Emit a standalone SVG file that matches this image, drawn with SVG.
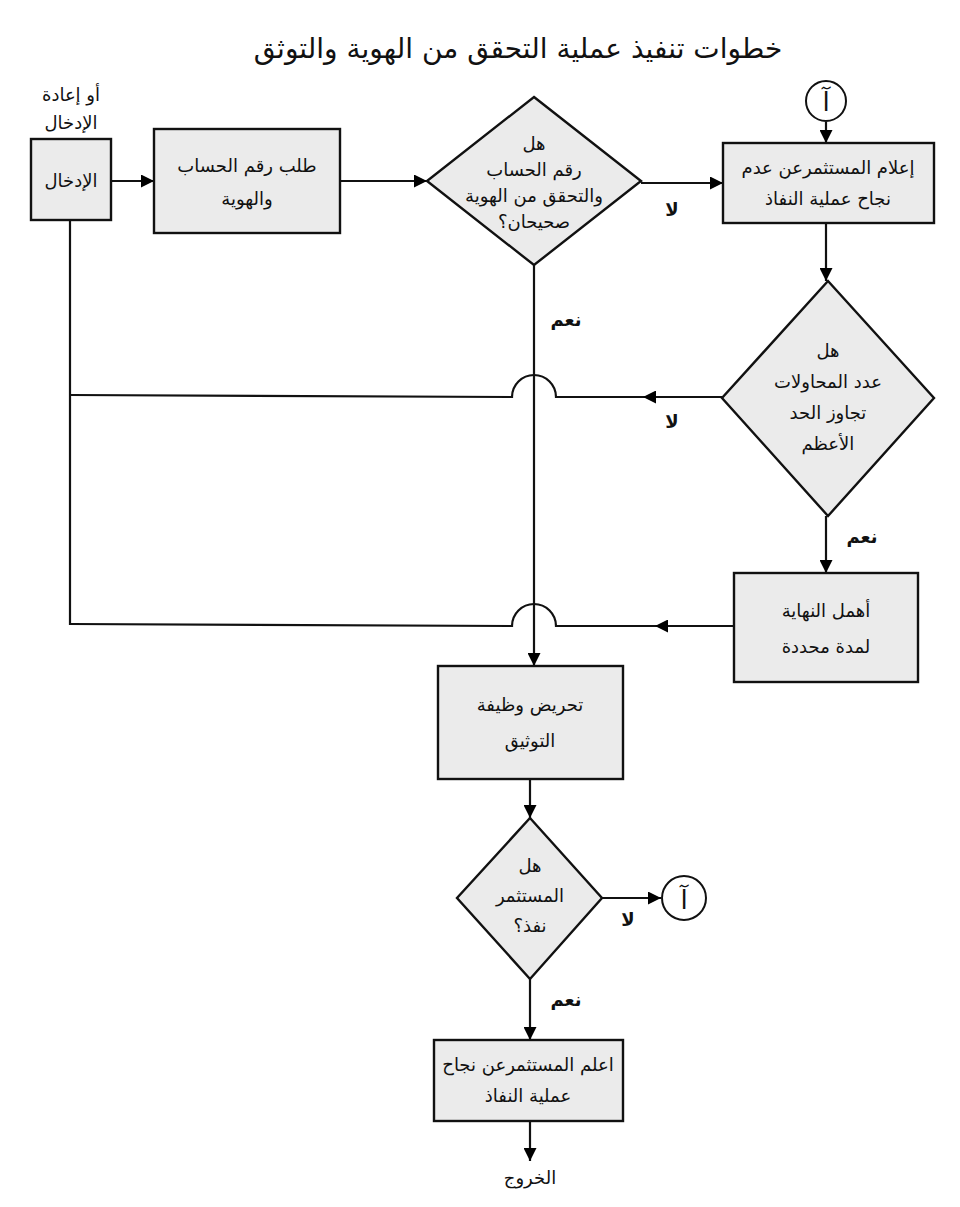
<svg xmlns="http://www.w3.org/2000/svg" width="960" height="1207" viewBox="0 0 960 1207">
<defs>
<marker id="ah" viewBox="0 0 10 10" refX="10" refY="5" markerWidth="13" markerHeight="13" markerUnits="userSpaceOnUse" orient="auto">
<path d="M0,0 L10,5 L0,10 Z" fill="#000"/>
</marker>
<style>
.box{fill:#ebebeb;stroke:#111;stroke-width:2.4}
.ln{fill:none;stroke:#111;stroke-width:2.2}
.t{font-family:"DejaVu Sans",sans-serif;font-size:18px;fill:#111;text-anchor:middle;direction:rtl}
.lb{font-family:"DejaVu Sans",sans-serif;font-size:18px;font-weight:bold;fill:#111;text-anchor:middle;direction:rtl}
.title{font-family:"DejaVu Sans",sans-serif;font-size:28px;fill:#111;text-anchor:middle;direction:rtl}
.circ{fill:#fff;stroke:#111;stroke-width:2}
.ca{font-family:"DejaVu Sans",sans-serif;font-size:26px;fill:#111;text-anchor:middle}
</style>
</defs>
<rect width="960" height="1207" fill="#fff"/>
<text class="title" x="518" y="58">خطوات تنفيذ عملية التحقق من الهوية والتوثق</text>

<g id="connectors">
<line class="ln" x1="111" y1="181" x2="154" y2="181" marker-end="url(#ah)"/>
<line class="ln" x1="340" y1="181" x2="427" y2="181" marker-end="url(#ah)"/>
<line class="ln" x1="641" y1="183" x2="723" y2="183" marker-end="url(#ah)"/>
<line class="ln" x1="826" y1="122" x2="826" y2="143" marker-end="url(#ah)"/>
<line class="ln" x1="826" y1="223" x2="826" y2="281" marker-end="url(#ah)"/>
<line class="ln" x1="826" y1="516" x2="826" y2="573" marker-end="url(#ah)"/>
<line class="ln" x1="534" y1="265" x2="534" y2="666" marker-end="url(#ah)"/>
<line class="ln" x1="722" y1="397" x2="643" y2="397" marker-end="url(#ah)"/>
<path class="ln" d="M643,397 L556,397 A22,22 0 0 0 512,397 L70,395"/>
<line class="ln" x1="734" y1="626" x2="655" y2="626" marker-end="url(#ah)"/>
<path class="ln" d="M655,626 L556,626 A22,22 0 0 0 512,626 L70,624"/>
<line class="ln" x1="70" y1="220" x2="70" y2="625"/>
<line class="ln" x1="530" y1="779" x2="530" y2="818" marker-end="url(#ah)"/>
<line class="ln" x1="602" y1="898" x2="661" y2="898" marker-end="url(#ah)"/>
<line class="ln" x1="530" y1="979" x2="530" y2="1040" marker-end="url(#ah)"/>
<line class="ln" x1="530" y1="1121" x2="530" y2="1161" marker-end="url(#ah)"/>
<text class="lb" x="672" y="216">لا</text>
<text class="lb" x="672" y="428">لا</text>
<text class="lb" x="566" y="326">نعم</text>
<text class="lb" x="862" y="543">نعم</text>
<text class="lb" x="628" y="926">لا</text>
<text class="lb" x="566" y="1006">نعم</text>
</g>

<g id="input">
<text class="t" x="71" y="101">أو إعادة</text>
<text class="t" x="71" y="129">الإدخال</text>
<rect class="box" x="31" y="139" width="80" height="81"/>
<text class="t" x="71" y="187">الإدخال</text>
</g>

<g id="request">
<rect class="box" x="154" y="129" width="186" height="104"/>
<text class="t" x="247" y="172">طلب رقم الحساب</text>
<text class="t" x="247" y="205">والهوية</text>
</g>

<g id="check1">
<polygon class="box" points="534,97 641,181 534,265 427,181"/>
<text class="t" x="534" y="150">هل</text>
<text class="t" x="534" y="176">رقم الحساب</text>
<text class="t" x="534" y="202">والتحقق من الهوية</text>
<text class="t" x="534" y="228">صحيحان؟</text>
</g>

<g id="connA-top">
<circle class="circ" cx="826" cy="101" r="20"/>
<text class="ca" x="826" y="111">آ</text>
</g>

<g id="notify-fail">
<rect class="box" x="723" y="143" width="211" height="80"/>
<text class="t" x="828" y="174">إعلام المستثمرعن عدم</text>
<text class="t" x="828" y="205">نجاح عملية النفاذ</text>
</g>

<g id="check2">
<polygon class="box" points="828,281 934,398 828,516 722,398"/>
<text class="t" x="828" y="357">هل</text>
<text class="t" x="828" y="388">عدد المحاولات</text>
<text class="t" x="828" y="419">تجاوز الحد</text>
<text class="t" x="828" y="450">الأعظم</text>
</g>

<g id="ignore">
<rect class="box" x="734" y="573" width="184" height="109"/>
<text class="t" x="826" y="617">أهمل النهاية</text>
<text class="t" x="826" y="653">لمدة محددة</text>
</g>

<g id="auth">
<rect class="box" x="438" y="666" width="185" height="113"/>
<text class="t" x="530" y="711">تحريض وظيفة</text>
<text class="t" x="530" y="747">التوثيق</text>
</g>

<g id="check3">
<polygon class="box" points="530,818 602,898 530,979 457,898"/>
<text class="t" x="530" y="872">هل</text>
<text class="t" x="530" y="902">المستثمر</text>
<text class="t" x="530" y="932">نفذ؟</text>
</g>

<g id="connA-bottom">
<circle class="circ" cx="684" cy="898" r="22"/>
<text class="ca" x="684" y="909">آ</text>
</g>

<g id="notify-success">
<rect class="box" x="434" y="1040" width="189" height="81"/>
<text class="t" x="528" y="1071">اعلم المستثمرعن نجاح</text>
<text class="t" x="528" y="1102">عملية النفاذ</text>
</g>

<g id="exit">
<text class="t" x="530" y="1184">الخروج</text>
</g>
</svg>
